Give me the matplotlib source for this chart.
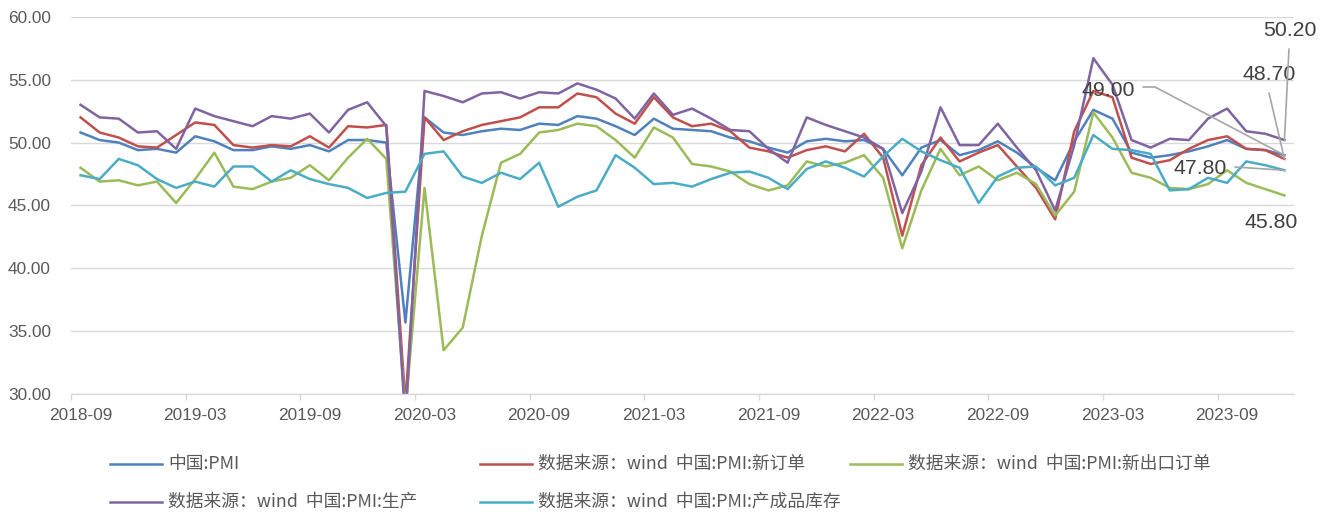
import numpy as np
import pandas as pd
import matplotlib
matplotlib.use("Agg")
import matplotlib.pyplot as plt
from matplotlib.lines import Line2D

plt.rcParams['font.family'] = ['Liberation Sans', 'Noto Sans CJK SC', 'DejaVu Sans']

# 月份 2018-09 ~ 2023-12
months = pd.date_range('2018-09-01', periods=64, freq='MS').strftime('%Y-%m').tolist()

pmi = [50.8, 50.2, 50.0, 49.4,
       49.5, 49.2, 50.5, 50.1, 49.4, 49.4, 49.7, 49.5, 49.8, 49.3, 50.2, 50.2,
       50.0, 35.7, 52.0, 50.8, 50.6, 50.9, 51.1, 51.0, 51.5, 51.4, 52.1, 51.9,
       51.3, 50.6, 51.9, 51.1, 51.0, 50.9, 50.4, 50.1, 49.6, 49.2, 50.1, 50.3,
       50.1, 50.2, 49.5, 47.4, 49.6, 50.2, 49.0, 49.4, 50.1, 49.2, 48.0, 47.0,
       50.1, 52.6, 51.9, 49.2, 48.8, 49.0, 49.3, 49.7, 50.2, 49.5, 49.4, 49.0]
new_orders = [52.0, 50.8, 50.4, 49.7,
              49.6, 50.6, 51.6, 51.4, 49.8, 49.6, 49.8, 49.7, 50.5, 49.6, 51.3, 51.2,
              51.4, 29.3, 52.0, 50.2, 50.9, 51.4, 51.7, 52.0, 52.8, 52.8, 53.9, 53.6,
              52.3, 51.5, 53.6, 52.0, 51.3, 51.5, 50.9, 49.6, 49.3, 48.8, 49.4, 49.7,
              49.3, 50.7, 48.8, 42.6, 48.2, 50.4, 48.5, 49.2, 49.8, 48.1, 46.4, 43.9,
              50.9, 54.1, 53.6, 48.8, 48.3, 48.6, 49.5, 50.2, 50.5, 49.5, 49.4, 48.7]
export_orders = [48.0, 46.9, 47.0, 46.6,
                 46.9, 45.2, 47.1, 49.2, 46.5, 46.3, 46.9, 47.2, 48.2, 47.0, 48.8, 50.3,
                 48.7, 28.7, 46.4, 33.5, 35.3, 42.6, 48.4, 49.1, 50.8, 51.0, 51.5, 51.3,
                 50.2, 48.8, 51.2, 50.4, 48.3, 48.1, 47.7, 46.7, 46.2, 46.6, 48.5, 48.1,
                 48.4, 49.0, 47.2, 41.6, 46.2, 49.5, 47.4, 48.1, 47.0, 47.6, 46.7, 44.2,
                 46.1, 52.4, 50.4, 47.6, 47.2, 46.4, 46.3, 46.7, 47.8, 46.8, 46.3, 45.8]
production = [53.0, 52.0, 51.9, 50.8,
              50.9, 49.5, 52.7, 52.1, 51.7, 51.3, 52.1, 51.9, 52.3, 50.8, 52.6, 53.2,
              51.3, 27.8, 54.1, 53.7, 53.2, 53.9, 54.0, 53.5, 54.0, 53.9, 54.7, 54.2,
              53.5, 51.9, 53.9, 52.2, 52.7, 51.9, 51.0, 50.9, 49.5, 48.4, 52.0, 51.4,
              50.9, 50.4, 49.5, 44.4, 47.7, 52.8, 49.8, 49.8, 51.5, 49.6, 47.8, 44.6,
              49.8, 56.7, 54.6, 50.2, 49.6, 50.3, 50.2, 51.9, 52.7, 50.9, 50.7, 50.2]
inventory = [47.4, 47.1, 48.7, 48.2,
             47.1, 46.4, 46.9, 46.5, 48.1, 48.1, 46.9, 47.8, 47.1, 46.7, 46.4, 45.6,
             46.0, 46.1, 49.1, 49.3, 47.3, 46.8, 47.6, 47.1, 48.4, 44.9, 45.7, 46.2,
             49.0, 48.0, 46.7, 46.8, 46.5, 47.1, 47.6, 47.7, 47.2, 46.3, 47.9, 48.5,
             48.0, 47.3, 48.9, 50.3, 49.3, 48.6, 48.0, 45.2, 47.3, 48.0, 48.1, 46.6,
             47.2, 50.6, 49.5, 49.4, 49.1, 46.2, 46.3, 47.2, 46.8, 48.5, 48.2, 47.8]

names = ['中国:PMI',
         '数据来源：wind  中国:PMI:新订单',
         '数据来源：wind  中国:PMI:新出口订单',
         '数据来源：wind  中国:PMI:生产',
         '数据来源：wind  中国:PMI:产成品库存']
series = [pmi, new_orders, export_orders, production, inventory]
colors = ['#4F81BD', '#C0504D', '#9BBB59', '#8064A2', '#4BACC6']

W, H = 1331, 516
fig = plt.figure(figsize=(W / 100, H / 100), dpi=100)
ax = fig.add_axes([71 / W, 1 - 394.3 / H, (1294 - 71) / W, (394.3 - 16.7) / H])

x = np.arange(len(months))
for vals, c, n in zip(series, colors, names):
    ax.plot(x, vals, color=c, lw=1.8, label=n, solid_joinstyle='round')

ax.set_xlim(-0.5, len(months) - 0.5)
ax.set_ylim(30, 60)
ax.set_yticks(np.arange(30, 61, 5))
ax.set_yticklabels(['%.2f' % v for v in np.arange(30, 61, 5)])
ax.grid(axis='y', color='#D9D9D9', lw=1.0)
ax.set_axisbelow(True)
for s in ['top', 'left', 'right']:
    ax.spines[s].set_visible(False)
ax.spines['bottom'].set_color('#D9D9D9')
ax.spines['bottom'].set_linewidth(1.0)

# 刻度线在类别之间, 标签在类别中心
ax.set_xticks(np.arange(-0.5, len(months) - 4, 6))
ax.set_xticklabels([])
ax.set_xticks(x[::6], minor=True)
ax.set_xticklabels(months[::6], minor=True)
ax.tick_params(axis='x', which='major', length=4.3, color='#D9D9D9', width=1.0)
ax.tick_params(axis='x', which='minor', length=0, pad=10, labelsize=12.4, labelcolor='#595959')
ax.tick_params(axis='y', length=0, pad=14.4, labelsize=12.4, labelcolor='#595959')

# 末端数据标签
lab_color = '#404040'
lead = '#A6A6A6'
last = len(months) - 1
labels = [(production[-1], (1290, 30)),
          (new_orders[-1], (1269, 75)),
          (pmi[-1], (1108, 90)),
          (inventory[-1], (1200, 168)),
          (export_orders[-1], (1271, 222))]
for v, (px, py) in labels:
    ax.annotate('%.2f' % v, xy=(px, H - py), xycoords='figure pixels',
                ha='center', va='center', fontsize=15.3, color=lab_color)

leaders = [(production[-1], (1289, 49)),
           (new_orders[-1], (1269, 93)),
           (pmi[-1], (1155, 87)),
           (inventory[-1], (1235, 167))]
for v, (px, py) in leaders:
    ax.annotate('', xy=(last, v), xycoords='data',
                xytext=(px, H - py), textcoords='figure pixels',
                arrowprops=dict(arrowstyle='-', color=lead, lw=1.2,
                                shrinkA=0, shrinkB=0))
ax.annotate('', xy=(1155, H - 87), xycoords='figure pixels',
            xytext=(1143, H - 87), textcoords='figure pixels',
            arrowprops=dict(arrowstyle='-', color=lead, lw=1.2, shrinkA=0, shrinkB=0))

# 图例 (Excel 式等宽列)
col_x = [110, 480, 850]
row_y = [464, 502]
slots = [(0, 0), (0, 1), (0, 2), (1, 0), (1, 1)]
for (r, cidx), n, c in zip(slots, names, colors):
    x0 = col_x[cidx]
    y0 = H - row_y[r]
    fig.add_artist(Line2D([x0 / W, (x0 + 52) / W], [y0 / H, y0 / H],
                          color=c, lw=1.8, transform=fig.transFigure))
    fig.text((x0 + 58) / W, y0 / H, n, ha='left', va='center', fontsize=12.8,
             color='#595959', family=['Noto Sans CJK SC', 'DejaVu Sans'])

fig.savefig('out.png', dpi=100)
